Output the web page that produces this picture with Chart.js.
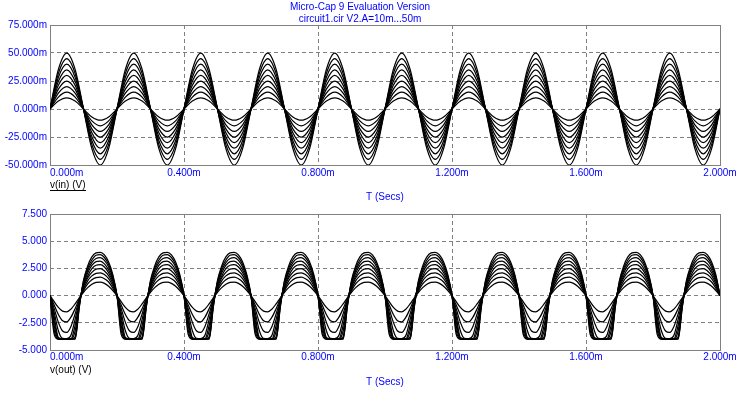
<!DOCTYPE html>
<html>
<head>
<meta charset="utf-8">
<script src="https://cdn.jsdelivr.net/npm/chart.js@4.4.1/dist/chart.umd.min.js"></script>
<style>
html,body{margin:0;padding:0;background:#fff;}
#wrap{position:relative;width:747px;height:394px;overflow:hidden;}
canvas{position:absolute;left:0;}
#cTop{top:0;}
#cBot{top:205px;}
</style>
</head>
<body>
<div id="wrap">
<canvas id="cTop" width="747" height="205"></canvas>
<canvas id="cBot" width="747" height="189"></canvas>
</div>
<script>
// ---------- DATA ----------
const titleLines = ['Micro-Cap 9 Evaluation Version', 'circuit1.cir V2.A=10m...50m'];
const stepLabels = ['10m','15m','20m','25m','30m','35m','40m','45m','50m'];
const xTickValues = [0, 0.4, 0.8, 1.2, 1.6, 2.0];
const xTickLabels = ['0.000m','0.400m','0.800m','1.200m','1.600m','2.000m'];
const yTopTicks = ['-50.000m','-25.000m','0.000m','25.000m','50.000m','75.000m'];
const yBotTicks = ['-5.000','-2.500','0.000','2.500','5.000','7.500'];

// time in ms
const timesIn = [0,0.025,0.05,0.075,0.1,0.125,0.15,0.175,0.2,0.225,0.25,0.275,0.3,0.325,0.35,0.375,0.4,0.425,0.45,0.475,0.5,0.525,0.55,0.575,0.6,0.625,0.65,0.675,0.7,0.725,0.75,0.775,0.8,0.825,0.85,0.875,0.9,0.925,0.95,0.975,1,1.025,1.05,1.075,1.1,1.125,1.15,1.175,1.2,1.225,1.25,1.275,1.3,1.325,1.35,1.375,1.4,1.425,1.45,1.475,1.5,1.525,1.55,1.575,1.6,1.625,1.65,1.675,1.7,1.725,1.75,1.775,1.8,1.825,1.85,1.875,1.9,1.925,1.95,1.975,2];

const timesOut = [0,0.0125,0.025,0.0375,0.05,0.0625,0.075,0.0875,0.1,0.1125,0.125,0.1375,0.15,0.1625,0.175,0.1875,
0.2,0.2125,0.225,0.2375,0.25,0.2625,0.275,0.2875,0.3,0.3125,0.325,0.3375,0.35,0.3625,0.375,0.3875,
0.4,0.4125,0.425,0.4375,0.45,0.4625,0.475,0.4875,0.5,0.5125,0.525,0.5375,0.55,0.5625,0.575,0.5875,
0.6,0.6125,0.625,0.6375,0.65,0.6625,0.675,0.6875,0.7,0.7125,0.725,0.7375,0.75,0.7625,0.775,0.7875,
0.8,0.8125,0.825,0.8375,0.85,0.8625,0.875,0.8875,0.9,0.9125,0.925,0.9375,0.95,0.9625,0.975,0.9875,
1,1.0125,1.025,1.0375,1.05,1.0625,1.075,1.0875,1.1,1.1125,1.125,1.1375,1.15,1.1625,1.175,1.1875,
1.2,1.2125,1.225,1.2375,1.25,1.2625,1.275,1.2875,1.3,1.3125,1.325,1.3375,1.35,1.3625,1.375,1.3875,
1.4,1.4125,1.425,1.4375,1.45,1.4625,1.475,1.4875,1.5,1.5125,1.525,1.5375,1.55,1.5625,1.575,1.5875,
1.6,1.6125,1.625,1.6375,1.65,1.6625,1.675,1.6875,1.7,1.7125,1.725,1.7375,1.75,1.7625,1.775,1.7875,
1.8,1.8125,1.825,1.8375,1.85,1.8625,1.875,1.8875,1.9,1.9125,1.925,1.9375,1.95,1.9625,1.975,1.9875,
2];

// v(in) in mV
const vIn10 = [0,7.1,10,7.1,0,-7.1,-10,-7.1,0,7.1,10,7.1,0,-7.1,-10,-7.1,0,7.1,10,7.1,0,-7.1,-10,-7.1,0,7.1,10,7.1,0,-7.1,-10,-7.1,0,7.1,10,7.1,0,-7.1,-10,-7.1,0,7.1,10,7.1,0,-7.1,-10,-7.1,0,7.1,10,7.1,0,-7.1,-10,-7.1,0,7.1,10,7.1,0,-7.1,-10,-7.1,0,7.1,10,7.1,0,-7.1,-10,-7.1,0,7.1,10,7.1,0,-7.1,-10,-7.1,0];
const vIn15 = [0,10.6,15,10.6,0,-10.6,-15,-10.6,0,10.6,15,10.6,0,-10.6,-15,-10.6,0,10.6,15,10.6,0,-10.6,-15,-10.6,0,10.6,15,10.6,0,-10.6,-15,-10.6,0,10.6,15,10.6,0,-10.6,-15,-10.6,0,10.6,15,10.6,0,-10.6,-15,-10.6,0,10.6,15,10.6,0,-10.6,-15,-10.6,0,10.6,15,10.6,0,-10.6,-15,-10.6,0,10.6,15,10.6,0,-10.6,-15,-10.6,0,10.6,15,10.6,0,-10.6,-15,-10.6,0];
const vIn20 = [0,14.1,20,14.1,0,-14.1,-20,-14.1,0,14.1,20,14.1,0,-14.1,-20,-14.1,0,14.1,20,14.1,0,-14.1,-20,-14.1,0,14.1,20,14.1,0,-14.1,-20,-14.1,0,14.1,20,14.1,0,-14.1,-20,-14.1,0,14.1,20,14.1,0,-14.1,-20,-14.1,0,14.1,20,14.1,0,-14.1,-20,-14.1,0,14.1,20,14.1,0,-14.1,-20,-14.1,0,14.1,20,14.1,0,-14.1,-20,-14.1,0,14.1,20,14.1,0,-14.1,-20,-14.1,0];
const vIn25 = [0,17.7,25,17.7,0,-17.7,-25,-17.7,0,17.7,25,17.7,0,-17.7,-25,-17.7,0,17.7,25,17.7,0,-17.7,-25,-17.7,0,17.7,25,17.7,0,-17.7,-25,-17.7,0,17.7,25,17.7,0,-17.7,-25,-17.7,0,17.7,25,17.7,0,-17.7,-25,-17.7,0,17.7,25,17.7,0,-17.7,-25,-17.7,0,17.7,25,17.7,0,-17.7,-25,-17.7,0,17.7,25,17.7,0,-17.7,-25,-17.7,0,17.7,25,17.7,0,-17.7,-25,-17.7,0];
const vIn30 = [0,21.2,30,21.2,0,-21.2,-30,-21.2,0,21.2,30,21.2,0,-21.2,-30,-21.2,0,21.2,30,21.2,0,-21.2,-30,-21.2,0,21.2,30,21.2,0,-21.2,-30,-21.2,0,21.2,30,21.2,0,-21.2,-30,-21.2,0,21.2,30,21.2,0,-21.2,-30,-21.2,0,21.2,30,21.2,0,-21.2,-30,-21.2,0,21.2,30,21.2,0,-21.2,-30,-21.2,0,21.2,30,21.2,0,-21.2,-30,-21.2,0,21.2,30,21.2,0,-21.2,-30,-21.2,0];
const vIn35 = [0,24.7,35,24.7,0,-24.7,-35,-24.7,0,24.7,35,24.7,0,-24.7,-35,-24.7,0,24.7,35,24.7,0,-24.7,-35,-24.7,0,24.7,35,24.7,0,-24.7,-35,-24.7,0,24.7,35,24.7,0,-24.7,-35,-24.7,0,24.7,35,24.7,0,-24.7,-35,-24.7,0,24.7,35,24.7,0,-24.7,-35,-24.7,0,24.7,35,24.7,0,-24.7,-35,-24.7,0,24.7,35,24.7,0,-24.7,-35,-24.7,0,24.7,35,24.7,0,-24.7,-35,-24.7,0];
const vIn40 = [0,28.3,40,28.3,0,-28.3,-40,-28.3,0,28.3,40,28.3,0,-28.3,-40,-28.3,0,28.3,40,28.3,0,-28.3,-40,-28.3,0,28.3,40,28.3,0,-28.3,-40,-28.3,0,28.3,40,28.3,0,-28.3,-40,-28.3,0,28.3,40,28.3,0,-28.3,-40,-28.3,0,28.3,40,28.3,0,-28.3,-40,-28.3,0,28.3,40,28.3,0,-28.3,-40,-28.3,0,28.3,40,28.3,0,-28.3,-40,-28.3,0,28.3,40,28.3,0,-28.3,-40,-28.3,0];
const vIn45 = [0,31.8,45,31.8,0,-31.8,-45,-31.8,0,31.8,45,31.8,0,-31.8,-45,-31.8,0,31.8,45,31.8,0,-31.8,-45,-31.8,0,31.8,45,31.8,0,-31.8,-45,-31.8,0,31.8,45,31.8,0,-31.8,-45,-31.8,0,31.8,45,31.8,0,-31.8,-45,-31.8,0,31.8,45,31.8,0,-31.8,-45,-31.8,0,31.8,45,31.8,0,-31.8,-45,-31.8,0,31.8,45,31.8,0,-31.8,-45,-31.8,0,31.8,45,31.8,0,-31.8,-45,-31.8,0];
const vIn50 = [0,35.4,50,35.4,0,-35.4,-50,-35.4,0,35.4,50,35.4,0,-35.4,-50,-35.4,0,35.4,50,35.4,0,-35.4,-50,-35.4,0,35.4,50,35.4,0,-35.4,-50,-35.4,0,35.4,50,35.4,0,-35.4,-50,-35.4,0,35.4,50,35.4,0,-35.4,-50,-35.4,0,35.4,50,35.4,0,-35.4,-50,-35.4,0,35.4,50,35.4,0,-35.4,-50,-35.4,0,35.4,50,35.4,0,-35.4,-50,-35.4,0,35.4,50,35.4,0,-35.4,-50,-35.4,0];

// v(out) in V
const vOut10 = [0,-0.56,-1.09,-1.43,-1.49,-1.24,-0.76,-0.2,0.31,0.73,1.04,1.21,1.24,1.12,0.86,0.47,0,-0.56,-1.09,-1.43,-1.49,-1.24,-0.76,-0.2,0.31,0.73,1.04,1.21,1.24,1.12,0.86,0.47,0,-0.56,-1.09,-1.43,-1.49,-1.24,-0.76,-0.2,0.31,0.73,1.04,1.21,1.24,1.12,0.86,0.47,0,-0.56,-1.09,-1.43,-1.49,-1.24,-0.76,-0.2,0.31,0.73,1.04,1.21,1.24,1.12,0.86,0.47,0,-0.56,-1.09,-1.43,-1.49,-1.24,-0.76,-0.2,0.31,0.73,1.04,1.21,1.24,1.12,0.86,0.47,0,-0.56,-1.09,-1.43,-1.49,-1.24,-0.76,-0.2,0.31,0.73,1.04,1.21,1.24,1.12,0.86,0.47,0,-0.56,-1.09,-1.43,-1.49,-1.24,-0.76,-0.2,0.31,0.73,1.04,1.21,1.24,1.12,0.86,0.47,0,-0.56,-1.09,-1.43,-1.49,-1.24,-0.76,-0.2,0.31,0.73,1.04,1.21,1.24,1.12,0.86,0.47,0,-0.56,-1.09,-1.43,-1.49,-1.24,-0.76,-0.2,0.31,0.73,1.04,1.21,1.24,1.12,0.86,0.47,0,-0.56,-1.09,-1.43,-1.49,-1.24,-0.76,-0.2,0.31,0.73,1.04,1.21,1.24,1.12,0.86,0.47,0];
const vOut15 = [0,-0.87,-1.73,-2.31,-2.41,-1.98,-1.2,-0.3,0.46,1.07,1.46,1.66,1.69,1.55,1.25,0.69,0,-0.87,-1.73,-2.31,-2.41,-1.98,-1.2,-0.3,0.46,1.07,1.46,1.66,1.69,1.55,1.25,0.69,0,-0.87,-1.73,-2.31,-2.41,-1.98,-1.2,-0.3,0.46,1.07,1.46,1.66,1.69,1.55,1.25,0.69,0,-0.87,-1.73,-2.31,-2.41,-1.98,-1.2,-0.3,0.46,1.07,1.46,1.66,1.69,1.55,1.25,0.69,0,-0.87,-1.73,-2.31,-2.41,-1.98,-1.2,-0.3,0.46,1.07,1.46,1.66,1.69,1.55,1.25,0.69,0,-0.87,-1.73,-2.31,-2.41,-1.98,-1.2,-0.3,0.46,1.07,1.46,1.66,1.69,1.55,1.25,0.69,0,-0.87,-1.73,-2.31,-2.41,-1.98,-1.2,-0.3,0.46,1.07,1.46,1.66,1.69,1.55,1.25,0.69,0,-0.87,-1.73,-2.31,-2.41,-1.98,-1.2,-0.3,0.46,1.07,1.46,1.66,1.69,1.55,1.25,0.69,0,-0.87,-1.73,-2.31,-2.41,-1.98,-1.2,-0.3,0.46,1.07,1.46,1.66,1.69,1.55,1.25,0.69,0,-0.87,-1.73,-2.31,-2.41,-1.98,-1.2,-0.3,0.46,1.07,1.46,1.66,1.69,1.55,1.25,0.69,0];
const vOut20 = [0,-1.2,-2.46,-3.25,-3.38,-2.83,-1.68,-0.4,0.6,1.36,1.81,2.05,2.09,1.93,1.55,0.91,0,-1.2,-2.46,-3.25,-3.38,-2.83,-1.68,-0.4,0.6,1.36,1.81,2.05,2.09,1.93,1.55,0.91,0,-1.2,-2.46,-3.25,-3.38,-2.83,-1.68,-0.4,0.6,1.36,1.81,2.05,2.09,1.93,1.55,0.91,0,-1.2,-2.46,-3.25,-3.38,-2.83,-1.68,-0.4,0.6,1.36,1.81,2.05,2.09,1.93,1.55,0.91,0,-1.2,-2.46,-3.25,-3.38,-2.83,-1.68,-0.4,0.6,1.36,1.81,2.05,2.09,1.93,1.55,0.91,0,-1.2,-2.46,-3.25,-3.38,-2.83,-1.68,-0.4,0.6,1.36,1.81,2.05,2.09,1.93,1.55,0.91,0,-1.2,-2.46,-3.25,-3.38,-2.83,-1.68,-0.4,0.6,1.36,1.81,2.05,2.09,1.93,1.55,0.91,0,-1.2,-2.46,-3.25,-3.38,-2.83,-1.68,-0.4,0.6,1.36,1.81,2.05,2.09,1.93,1.55,0.91,0,-1.2,-2.46,-3.25,-3.38,-2.83,-1.68,-0.4,0.6,1.36,1.81,2.05,2.09,1.93,1.55,0.91,0,-1.2,-2.46,-3.25,-3.38,-2.83,-1.68,-0.4,0.6,1.36,1.81,2.05,2.09,1.93,1.55,0.91,0];
const vOut25 = [0,-1.56,-3.23,-3.94,-3.96,-3.65,-2.19,-0.51,0.75,1.62,2.14,2.44,2.49,2.27,1.84,1.12,0,-1.56,-3.23,-3.94,-3.96,-3.65,-2.19,-0.51,0.75,1.62,2.14,2.44,2.49,2.27,1.84,1.12,0,-1.56,-3.23,-3.94,-3.96,-3.65,-2.19,-0.51,0.75,1.62,2.14,2.44,2.49,2.27,1.84,1.12,0,-1.56,-3.23,-3.94,-3.96,-3.65,-2.19,-0.51,0.75,1.62,2.14,2.44,2.49,2.27,1.84,1.12,0,-1.56,-3.23,-3.94,-3.96,-3.65,-2.19,-0.51,0.75,1.62,2.14,2.44,2.49,2.27,1.84,1.12,0,-1.56,-3.23,-3.94,-3.96,-3.65,-2.19,-0.51,0.75,1.62,2.14,2.44,2.49,2.27,1.84,1.12,0,-1.56,-3.23,-3.94,-3.96,-3.65,-2.19,-0.51,0.75,1.62,2.14,2.44,2.49,2.27,1.84,1.12,0,-1.56,-3.23,-3.94,-3.96,-3.65,-2.19,-0.51,0.75,1.62,2.14,2.44,2.49,2.27,1.84,1.12,0,-1.56,-3.23,-3.94,-3.96,-3.65,-2.19,-0.51,0.75,1.62,2.14,2.44,2.49,2.27,1.84,1.12,0,-1.56,-3.23,-3.94,-3.96,-3.65,-2.19,-0.51,0.75,1.62,2.14,2.44,2.49,2.27,1.84,1.12,0];
const vOut30 = [0,-1.94,-3.85,-3.98,-3.98,-3.97,-2.74,-0.63,0.89,1.8,2.47,2.79,2.84,2.63,2.1,1.31,0,-1.94,-3.85,-3.98,-3.98,-3.97,-2.74,-0.63,0.89,1.8,2.47,2.79,2.84,2.63,2.1,1.31,0,-1.94,-3.85,-3.98,-3.98,-3.97,-2.74,-0.63,0.89,1.8,2.47,2.79,2.84,2.63,2.1,1.31,0,-1.94,-3.85,-3.98,-3.98,-3.97,-2.74,-0.63,0.89,1.8,2.47,2.79,2.84,2.63,2.1,1.31,0,-1.94,-3.85,-3.98,-3.98,-3.97,-2.74,-0.63,0.89,1.8,2.47,2.79,2.84,2.63,2.1,1.31,0,-1.94,-3.85,-3.98,-3.98,-3.97,-2.74,-0.63,0.89,1.8,2.47,2.79,2.84,2.63,2.1,1.31,0,-1.94,-3.85,-3.98,-3.98,-3.97,-2.74,-0.63,0.89,1.8,2.47,2.79,2.84,2.63,2.1,1.31,0,-1.94,-3.85,-3.98,-3.98,-3.97,-2.74,-0.63,0.89,1.8,2.47,2.79,2.84,2.63,2.1,1.31,0,-1.94,-3.85,-3.98,-3.98,-3.97,-2.74,-0.63,0.89,1.8,2.47,2.79,2.84,2.63,2.1,1.31,0,-1.94,-3.85,-3.98,-3.98,-3.97,-2.74,-0.63,0.89,1.8,2.47,2.79,2.84,2.63,2.1,1.31,0];
const vOut35 = [0,-2.34,-3.97,-3.99,-3.99,-3.99,-3.26,-0.74,1.03,2.08,2.77,3.13,3.18,2.92,2.36,1.47,0,-2.34,-3.97,-3.99,-3.99,-3.99,-3.26,-0.74,1.03,2.08,2.77,3.13,3.18,2.92,2.36,1.47,0,-2.34,-3.97,-3.99,-3.99,-3.99,-3.26,-0.74,1.03,2.08,2.77,3.13,3.18,2.92,2.36,1.47,0,-2.34,-3.97,-3.99,-3.99,-3.99,-3.26,-0.74,1.03,2.08,2.77,3.13,3.18,2.92,2.36,1.47,0,-2.34,-3.97,-3.99,-3.99,-3.99,-3.26,-0.74,1.03,2.08,2.77,3.13,3.18,2.92,2.36,1.47,0,-2.34,-3.97,-3.99,-3.99,-3.99,-3.26,-0.74,1.03,2.08,2.77,3.13,3.18,2.92,2.36,1.47,0,-2.34,-3.97,-3.99,-3.99,-3.99,-3.26,-0.74,1.03,2.08,2.77,3.13,3.18,2.92,2.36,1.47,0,-2.34,-3.97,-3.99,-3.99,-3.99,-3.26,-0.74,1.03,2.08,2.77,3.13,3.18,2.92,2.36,1.47,0,-2.34,-3.97,-3.99,-3.99,-3.99,-3.26,-0.74,1.03,2.08,2.77,3.13,3.18,2.92,2.36,1.47,0,-2.34,-3.97,-3.99,-3.99,-3.99,-3.26,-0.74,1.03,2.08,2.77,3.13,3.18,2.92,2.36,1.47,0];
const vOut40 = [0,-2.76,-4,-4,-4,-4,-3.78,-0.86,1.16,2.3,3.04,3.41,3.48,3.23,2.62,1.63,0,-2.76,-4,-4,-4,-4,-3.78,-0.86,1.16,2.3,3.04,3.41,3.48,3.23,2.62,1.63,0,-2.76,-4,-4,-4,-4,-3.78,-0.86,1.16,2.3,3.04,3.41,3.48,3.23,2.62,1.63,0,-2.76,-4,-4,-4,-4,-3.78,-0.86,1.16,2.3,3.04,3.41,3.48,3.23,2.62,1.63,0,-2.76,-4,-4,-4,-4,-3.78,-0.86,1.16,2.3,3.04,3.41,3.48,3.23,2.62,1.63,0,-2.76,-4,-4,-4,-4,-3.78,-0.86,1.16,2.3,3.04,3.41,3.48,3.23,2.62,1.63,0,-2.76,-4,-4,-4,-4,-3.78,-0.86,1.16,2.3,3.04,3.41,3.48,3.23,2.62,1.63,0,-2.76,-4,-4,-4,-4,-3.78,-0.86,1.16,2.3,3.04,3.41,3.48,3.23,2.62,1.63,0,-2.76,-4,-4,-4,-4,-3.78,-0.86,1.16,2.3,3.04,3.41,3.48,3.23,2.62,1.63,0,-2.76,-4,-4,-4,-4,-3.78,-0.86,1.16,2.3,3.04,3.41,3.48,3.23,2.62,1.63,0];
const vOut45 = [0,-3.18,-4,-4,-4,-4,-3.95,-0.97,1.28,2.52,3.27,3.71,3.76,3.5,2.85,1.78,0,-3.18,-4,-4,-4,-4,-3.95,-0.97,1.28,2.52,3.27,3.71,3.76,3.5,2.85,1.78,0,-3.18,-4,-4,-4,-4,-3.95,-0.97,1.28,2.52,3.27,3.71,3.76,3.5,2.85,1.78,0,-3.18,-4,-4,-4,-4,-3.95,-0.97,1.28,2.52,3.27,3.71,3.76,3.5,2.85,1.78,0,-3.18,-4,-4,-4,-4,-3.95,-0.97,1.28,2.52,3.27,3.71,3.76,3.5,2.85,1.78,0,-3.18,-4,-4,-4,-4,-3.95,-0.97,1.28,2.52,3.27,3.71,3.76,3.5,2.85,1.78,0,-3.18,-4,-4,-4,-4,-3.95,-0.97,1.28,2.52,3.27,3.71,3.76,3.5,2.85,1.78,0,-3.18,-4,-4,-4,-4,-3.95,-0.97,1.28,2.52,3.27,3.71,3.76,3.5,2.85,1.78,0,-3.18,-4,-4,-4,-4,-3.95,-0.97,1.28,2.52,3.27,3.71,3.76,3.5,2.85,1.78,0,-3.18,-4,-4,-4,-4,-3.95,-0.97,1.28,2.52,3.27,3.71,3.76,3.5,2.85,1.78,0];
const vOut50 = [0,-3.55,-4,-4,-4,-4,-4,-1.08,1.39,2.73,3.56,3.93,3.98,3.74,3.09,1.93,0,-3.55,-4,-4,-4,-4,-4,-1.08,1.39,2.73,3.56,3.93,3.98,3.74,3.09,1.93,0,-3.55,-4,-4,-4,-4,-4,-1.08,1.39,2.73,3.56,3.93,3.98,3.74,3.09,1.93,0,-3.55,-4,-4,-4,-4,-4,-1.08,1.39,2.73,3.56,3.93,3.98,3.74,3.09,1.93,0,-3.55,-4,-4,-4,-4,-4,-1.08,1.39,2.73,3.56,3.93,3.98,3.74,3.09,1.93,0,-3.55,-4,-4,-4,-4,-4,-1.08,1.39,2.73,3.56,3.93,3.98,3.74,3.09,1.93,0,-3.55,-4,-4,-4,-4,-4,-1.08,1.39,2.73,3.56,3.93,3.98,3.74,3.09,1.93,0,-3.55,-4,-4,-4,-4,-4,-1.08,1.39,2.73,3.56,3.93,3.98,3.74,3.09,1.93,0,-3.55,-4,-4,-4,-4,-4,-1.08,1.39,2.73,3.56,3.93,3.98,3.74,3.09,1.93,0,-3.55,-4,-4,-4,-4,-4,-1.08,1.39,2.73,3.56,3.93,3.98,3.74,3.09,1.93,0];

const vInSeries = [vIn10,vIn15,vIn20,vIn25,vIn30,vIn35,vIn40,vIn45,vIn50];
const vOutSeries = [vOut10,vOut15,vOut20,vOut25,vOut30,vOut35,vOut40,vOut45,vOut50];

// ---------- RENDER ----------
const FONT = '"Liberation Sans", Arial, sans-serif';
const BLUE = '#0000ff';
const GRID = '#808080';

const framePlugin = {
  id: 'frame',
  beforeDatasetsDraw(chart) {
    const {ctx, chartArea: a} = chart;
    ctx.save();
    ctx.strokeStyle = GRID;
    ctx.lineWidth = 1;
    ctx.setLineDash([]);
    ctx.strokeRect(Math.round(a.left) + 0.5, Math.round(a.top) + 0.5,
                   Math.round(a.right - a.left), Math.round(a.bottom - a.top));
    ctx.restore();
  },
  afterDraw(chart, args, opts) {
    const {ctx, chartArea: a} = chart;
    const xs = chart.scales.x;
    ctx.save();
    ctx.font = '10px ' + FONT;
    ctx.fillStyle = BLUE;
    ctx.textBaseline = 'middle';
    xTickValues.forEach((v, i) => {
      const px = xs.getPixelForValue(v);
      ctx.textAlign = i === 0 ? 'left' : 'center';
      ctx.fillText(xTickLabels[i], px, a.bottom + opts.tickDy);
    });
    ctx.fillStyle = '#000';
    ctx.textAlign = 'left';
    const lx = Math.round(a.left);
    const ly = a.bottom + opts.varDy;
    ctx.fillText(opts.varLabel, lx, ly);
    if (opts.underline) {
      const w = ctx.measureText(opts.varLabel).width;
      ctx.fillRect(lx, Math.round(ly + 5), Math.round(w), 1);
    }
    ctx.restore();
  }
};

function makeDatasets(series, times) {
  return series.map((vals, k) => ({
    label: stepLabels[k],
    data: vals.map((v, i) => ({x: times[i], y: v})),
    borderColor: '#000',
    borderWidth: 1.25,
    pointRadius: 0,
    fill: false,
    cubicInterpolationMode: 'monotone'
  }));
}

function makeChart(canvasId, series, times, yMin, yMax, yLabels, cfg) {
  return new Chart(document.getElementById(canvasId), {
    type: 'line',
    data: {datasets: makeDatasets(series, times)},
    plugins: [framePlugin],
    options: {
      responsive: false,
      animation: false,
      devicePixelRatio: 1,
      layout: {padding: {left: 0, right: 27, top: cfg.padTop, bottom: 0}},
      plugins: {
        legend: {display: false},
        tooltip: {enabled: false},
        title: cfg.title ? {
          display: true, text: titleLines, color: BLUE,
          font: {family: FONT, size: 10, weight: 'normal', lineHeight: 1.2},
          padding: {top: 1, bottom: 0}
        } : {display: false},
        frame: {varLabel: cfg.varLabel, underline: cfg.underline, tickDy: cfg.tickDy, varDy: cfg.varDy}
      },
      scales: {
        x: {
          type: 'linear', min: 0, max: 2,
          afterBuildTicks(scale) { scale.ticks = xTickValues.map(v => ({value: v})); },
          afterFit(scale) { scale.height = cfg.xHeight; },
          ticks: {display: false},
          grid: {color: GRID, lineWidth: 1, drawTicks: false},
          border: {display: false, dash: [4, 3]},
          title: {display: true, text: 'T (Secs)', color: BLUE,
                  font: {family: FONT, size: 10, lineHeight: 1.2},
                  padding: {top: 0, bottom: cfg.titlePadBottom}}
        },
        y: {
          type: 'linear', min: yMin, max: yMax,
          afterBuildTicks(scale) {
            const step = (yMax - yMin) / 5;
            scale.ticks = yLabels.map((t, i) => ({value: yMin + step * i}));
          },
          afterFit(scale) { scale.width = 50; },
          ticks: {
            color: BLUE, padding: 3,
            font: {family: FONT, size: 10},
            callback: (v, i) => yLabels[i]
          },
          grid: {color: GRID, lineWidth: 1, drawTicks: false},
          border: {display: false, dash: [4, 3]}
        }
      }
    }
  });
}

makeChart('cTop', vInSeries, timesIn, -50, 75, yTopTicks,
  {title: true, padTop: 0, xHeight: 40, titlePadBottom: 2, varLabel: 'v(in) (V)', underline: true, tickDy: 8, varDy: 20});
makeChart('cBot', vOutSeries, timesOut, -5, 7.5, yBotTicks,
  {title: false, padTop: 6, xHeight: 44, titlePadBottom: 6, varLabel: 'v(out) (V)', underline: false, tickDy: 7.5, varDy: 20});
</script>
</body>
</html>
